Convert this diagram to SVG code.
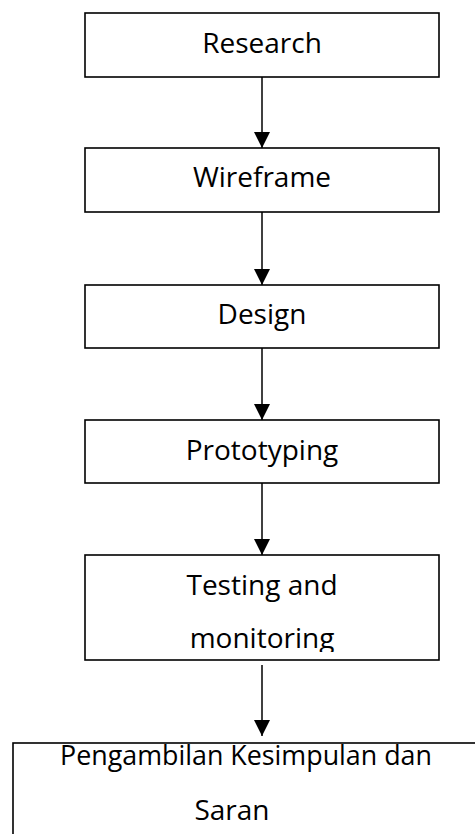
<svg xmlns="http://www.w3.org/2000/svg" width="475" height="834" viewBox="0 0 475 834">
  <style>
    .box { fill: #ffffff; stroke: #000000; stroke-width: 1.6; }
    .lbl { font-family: "Open Sans", "Noto Sans", "Liberation Sans", sans-serif; font-size: 28px; fill: #000000; text-anchor: middle; }
    .edge { stroke: #000000; stroke-width: 1.5; fill: none; marker-end: url(#head); }
  </style>
  <defs>
    <!-- filled triangular arrowhead, pointing along the line direction -->
    <marker id="head" markerUnits="userSpaceOnUse" markerWidth="17" markerHeight="16" refX="16" refY="8" orient="auto" viewBox="0 0 17 16">
      <polygon points="0,0 16,8 0,16" fill="#000000"/>
    </marker>
    <clipPath id="clip-testing">
      <rect x="85" y="555" width="354" height="97"/>
    </clipPath>
  </defs>

  <g id="research">
    <rect class="box" x="85" y="13" width="354" height="64"/>
    <text class="lbl" x="262" y="53">Research</text>
  </g>
  <g id="wireframe">
    <rect class="box" x="85" y="148" width="354" height="64"/>
    <text class="lbl" x="262" y="187">Wireframe</text>
  </g>
  <g id="design">
    <rect class="box" x="85" y="285" width="354" height="63"/>
    <text class="lbl" x="262" y="324">Design</text>
  </g>
  <g id="prototyping">
    <rect class="box" x="85" y="420" width="354" height="63"/>
    <text class="lbl" x="262" y="460">Prototyping</text>
  </g>
  <g id="testing">
    <rect class="box" x="85" y="555" width="354" height="105"/>
    <g clip-path="url(#clip-testing)">
      <text class="lbl" x="262" y="595">Testing and</text>
      <text class="lbl" x="262" y="648">monitoring</text>
    </g>
  </g>
  <g id="kesimpulan">
    <rect class="box" x="13" y="743" width="520" height="160"/>
    <text class="lbl" x="246" y="765" textLength="372" lengthAdjust="spacingAndGlyphs">Pengambilan Kesimpulan dan</text>
    <text class="lbl" x="232" y="820">Saran</text>
  </g>

  <g id="connectors">
    <line class="edge" x1="262" y1="77" x2="262" y2="148"/>
    <line class="edge" x1="262" y1="212" x2="262" y2="285"/>
    <line class="edge" x1="262" y1="348" x2="262" y2="420"/>
    <line class="edge" x1="262" y1="483" x2="262" y2="555"/>
    <line class="edge" x1="262" y1="665" x2="262" y2="736"/>
  </g>
</svg>
